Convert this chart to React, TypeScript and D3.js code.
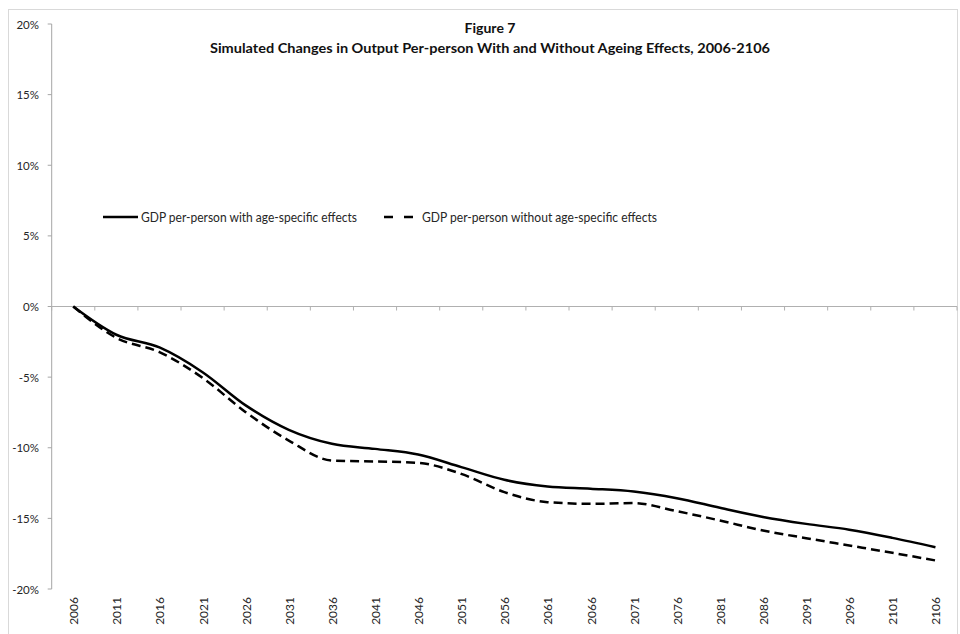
import React from "react";
import * as d3 from "d3";

const years = ["2006","2011","2016","2021","2026","2031","2036","2041","2046","2051","2056","2061","2066","2071","2076","2081","2086","2091","2096","2101","2106"];
const withAgeing = [0, -2.0, -2.9, -4.65, -7.0, -8.73, -9.72, -10.08, -10.48, -11.37, -12.27, -12.74, -12.9, -13.1, -13.57, -14.25, -14.9, -15.39, -15.8, -16.38, -17.04];
const withoutAgeing = [0, -2.22, -3.23, -5.05, -7.48, -9.49, -10.9, -10.97, -11.07, -11.85, -13.14, -13.85, -13.97, -13.92, -14.49, -15.15, -15.86, -16.4, -16.92, -17.44, -17.98];
const yTicks = [20, 15, 10, 5, 0, -5, -10, -15, -20];
const seriesNames = ["GDP per-person with age-specific effects", "GDP per-person without age-specific effects"];
const titleLines = ["Figure 7", "Simulated Changes in Output Per-person With and Without Ageing Effects, 2006-2106"];

const FONT = "Lato, 'Open Sans', sans-serif";

export default function App() {
  const left = 51.7, right = 957;
  const x = d3.scaleBand<string>().domain(years).range([left, right]);
  const y = d3.scaleLinear().domain([-20, 20]).range([589, 24]);
  const cx = (i: number) => (x(years[i]) as number) + x.bandwidth() / 2;
  const line = d3.line<number>().x((_, i) => cx(i)).y((d) => y(d)).curve(d3.curveMonotoneX);
  const tickXs = years.map((yr) => x(yr) as number).concat([right]);
  const textColor = "#262626";

  return (
    <svg width={960} height={634} style={{ position: "absolute", left: 0, top: 0, background: "#fff" }} fontFamily={FONT}>
      <rect x={8.5} y={9.5} width={949} height={700} fill="#fff" stroke="#d9d9d9" strokeWidth={1} />
      {/* title */}
      <text x={490} y={33} textAnchor="middle" fontWeight="bold" fontSize={13.5} fill="#111" textLength={51} lengthAdjust="spacingAndGlyphs">{titleLines[0]}</text>
      <text x={490} y={53} textAnchor="middle" fontWeight="bold" fontSize={13.5} fill="#111" textLength={560} lengthAdjust="spacingAndGlyphs">{titleLines[1]}</text>
      {/* y axis */}
      <line x1={left} x2={left} y1={y(20)} y2={y(-20)} stroke="#a6a6a6" strokeWidth={1} />
      {yTicks.map((t) => (
        <g key={t}>
          <line x1={left - 4} x2={left} y1={y(t)} y2={y(t)} stroke="#a6a6a6" />
          <text x={39} y={y(t)} textAnchor="end" dominantBaseline="central" fontSize={11.5} fill={textColor}>{t + "%"}</text>
        </g>
      ))}
      {/* x axis at 0 */}
      <line x1={left} x2={right} y1={y(0)} y2={y(0)} stroke="#b0b0b0" strokeWidth={1} />
      {tickXs.map((tx, i) => (
        <line key={i} x1={tx} x2={tx} y1={y(0)} y2={y(0) + 4} stroke="#b0b0b0" />
      ))}
      {years.map((yr, i) => (
        <text key={yr} transform={`translate(${cx(i) + 0.5},597) rotate(-90)`} textAnchor="end" dominantBaseline="central" fontSize={12} fill={textColor}>{yr}</text>
      ))}
      {/* lines */}
      <path d={line(withoutAgeing) || ""} fill="none" stroke="#000" strokeWidth={2.5} strokeDasharray="9,5" />
      <path d={line(withAgeing) || ""} fill="none" stroke="#000" strokeWidth={2.5} />
      {/* legend */}
      <line x1={103} x2={138} y1={217} y2={217} stroke="#000" strokeWidth={2.5} />
      <text x={141} y={217} dominantBaseline="central" fontSize={12.5} fill={textColor} textLength={216} lengthAdjust="spacingAndGlyphs">{seriesNames[0]}</text>
      <line x1={384} x2={413} y1={217} y2={217} stroke="#000" strokeWidth={2.5} strokeDasharray="9,11" />
      <text x={422} y={217} dominantBaseline="central" fontSize={12.5} fill={textColor} textLength={235} lengthAdjust="spacingAndGlyphs">{seriesNames[1]}</text>
    </svg>
  );
}
